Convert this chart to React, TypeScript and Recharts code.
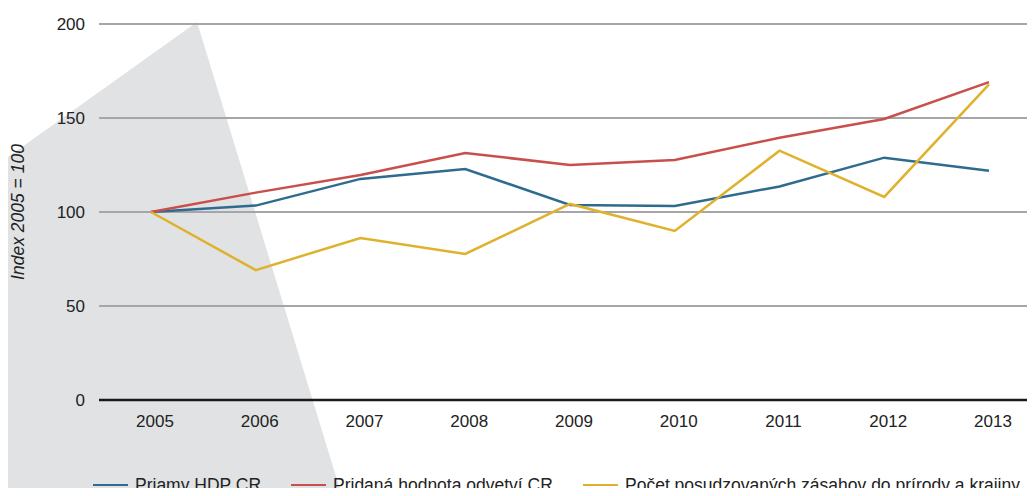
import React from 'react';
import { LineChart, Line, XAxis, YAxis, CartesianGrid, Legend } from 'recharts';

const years = ['2005', '2006', '2007', '2008', '2009', '2010', '2011', '2012', '2013'];
const hdp = [100, 103.4, 117.6, 122.9, 103.7, 103.2, 113.6, 128.9, 122.0];
const pridana = [100, 110.3, 119.7, 131.4, 125.0, 127.7, 139.5, 149.5, 169.1];
const zasahy = [100, 69.1, 86.2, 77.7, 104.3, 89.9, 132.6, 108.0, 167.9];
const yTicks = [0, 50, 100, 150, 200];

const series = [
  { key: 'hdp', name: 'Priamy HDP CR', color: '#2e6b8f' },
  { key: 'pridana', name: 'Pridaná hodnota odvetví CR', color: '#c84f4c' },
  { key: 'zasahy', name: 'Počet posudzovaných zásahov do prírody a krajiny', color: '#dfb12c' },
];

const data = years.map((y, i) => ({ year: y, hdp: hdp[i], pridana: pridana[i], zasahy: zasahy[i] }));

const FONT = '"Liberation Sans", Arial, sans-serif';
const legendLeft = [93, 291, 583];

const LegendContent = () => (
  <div style={{ position: 'relative', height: 66, width: 1041 }}>
    {series.map((s, i) => (
      <div
        key={s.key}
        style={{
          position: 'absolute',
          left: legendLeft[i],
          top: 45,
          height: 20,
          display: 'flex',
          alignItems: 'center',
          whiteSpace: 'nowrap',
        }}
      >
        <span style={{ display: 'inline-block', width: 35, height: 2.5, background: s.color, marginRight: 7 }} />
        <span style={{ fontSize: 17.5, color: '#222', fontFamily: FONT }}>{s.name}</span>
      </div>
    ))}
  </div>
);

const YLabel = (props: any) => {
  const vb = props.viewBox || { x: 0, y: 24, width: 99, height: 376 };
  const x = vb.x + 24;
  const y = vb.y + vb.height / 2;
  return (
    <text
      x={x}
      y={y}
      transform={`rotate(-90, ${x}, ${y})`}
      textAnchor="middle"
      fill="#222"
      fontStyle="italic"
      fontSize={17.5}
      fontFamily={FONT}
    >
      Index 2005 = 100
    </text>
  );
};

export default function App() {
  return (
    <div style={{ margin: -8, width: 1035, height: 496, overflow: 'hidden', position: 'relative', background: '#fff' }}>
      <svg width={1035} height={496} style={{ position: 'absolute', left: 0, top: 0 }}>
        <polygon points="-20,177 197,22 342,496 -20,496" fill="#e1e2e4" />
      </svg>
      <div style={{ position: 'absolute', left: 0, top: 0 }}>
        <LineChart
          width={1041}
          height={496}
          data={data}
          margin={{ top: 24, right: 0, bottom: 0, left: 0 }}
          style={{ fontFamily: FONT }}
        >
          <CartesianGrid vertical={false} stroke="#a6a6a8" strokeWidth={2} />
          <XAxis
            dataKey="year"
            height={30}
            padding={{ left: 52, right: 52 }}
            tickLine={false}
            axisLine={{ stroke: '#1a1a1a', strokeWidth: 2.5 }}
            tick={{ fill: '#222', fontSize: 17, dx: 4 }}
            tickMargin={9}
            interval={0}
          />
          <YAxis
            width={99}
            domain={[0, 200]}
            ticks={yTicks}
            axisLine={false}
            tickLine={false}
            tickSize={6}
            tickMargin={8}
            tick={{ fill: '#222', fontSize: 17 }}
            label={<YLabel />}
          />
          <Legend verticalAlign="bottom" content={<LegendContent />} wrapperStyle={{ left: 0, width: 1041 }} />
          {series.map((s) => (
            <Line
              key={s.key}
              type="linear"
              dataKey={s.key}
              name={s.name}
              stroke={s.color}
              strokeWidth={2.5}
              dot={false}
              activeDot={false}
              isAnimationActive={false}
            />
          ))}
        </LineChart>
      </div>
    </div>
  );
}
